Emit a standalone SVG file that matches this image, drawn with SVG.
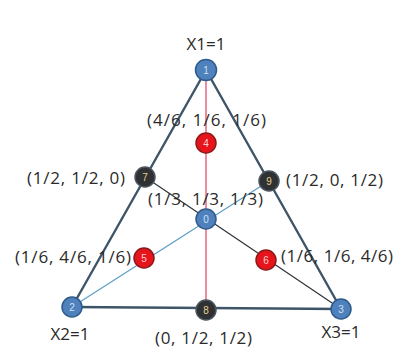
<svg xmlns="http://www.w3.org/2000/svg" width="401" height="361" viewBox="0 0 401 361">
<style>
.edge{stroke:#3e5568;stroke-width:2.4;fill:none;stroke-linecap:round}
.red-l{stroke:#e0506a;stroke-width:1.3}
.blue-l{stroke:#5d9dc6;stroke-width:1.2}
.dark-l{stroke:#2e3338;stroke-width:1.2}
.nb{fill:#4f81bd;stroke:#2e5a8c;stroke-width:1.5}
.nr{fill:#e8141c;stroke:#8a1a1a;stroke-width:1.5}
.nd{fill:#2f3133;stroke:#4a5560;stroke-width:1.5}
.num{font-family:"Liberation Sans",Arial,sans-serif;font-size:10px;text-anchor:middle}
.nbt{fill:#cfe0f5}.nrt{fill:#ffd0d0}.ndt{fill:#e8d090}
.lbl{font-family:"Open Sans","Liberation Sans",Arial,sans-serif;font-size:17px;fill:#2a2a2a}
</style>
<rect width="401" height="361" fill="#ffffff"/>
<g id="connectors">
<line class="red-l" x1="206" y1="70" x2="206" y2="311"/>
<line class="blue-l" x1="72" y1="307" x2="269" y2="181"/>
<line class="dark-l" x1="341" y1="309" x2="145" y2="177"/>
<line class="edge" x1="206" y1="70" x2="72" y2="307"/>
<line class="edge" x1="72" y1="307" x2="341" y2="309"/>
<line class="edge" x1="341" y1="309" x2="206" y2="70"/>
</g>
<g id="node1"><circle class="nb" cx="206" cy="70" r="10.5"/><text class="num nbt" x="206" y="74">1</text></g>
<g id="node2"><circle class="nb" cx="72" cy="307" r="10"/><text class="num nbt" x="72" y="311">2</text></g>
<g id="node3"><circle class="nb" cx="341" cy="309" r="10"/><text class="num nbt" x="341" y="313">3</text></g>
<g id="node0"><circle class="nb" cx="206" cy="219" r="10"/><text class="num nbt" x="206" y="223">0</text></g>
<g id="node4"><circle class="nr" cx="206" cy="143" r="10"/><text class="num nrt" x="206" y="147">4</text></g>
<g id="node5"><circle class="nr" cx="144" cy="258" r="10"/><text class="num nrt" x="144" y="262">5</text></g>
<g id="node6"><circle class="nr" cx="266" cy="260" r="10"/><text class="num nrt" x="266" y="264">6</text></g>
<g id="node7"><circle class="nd" cx="145" cy="177" r="10"/><text class="num ndt" x="145" y="181">7</text></g>
<g id="node8"><circle class="nd" cx="206" cy="310" r="10"/><text class="num ndt" x="206" y="314">8</text></g>
<g id="node9"><circle class="nd" cx="269" cy="181" r="10"/><text class="num ndt" x="269" y="185">9</text></g>
<g id="labels">
<text class="lbl" x="206" y="50" text-anchor="middle">X1=1</text>
<text class="lbl" x="147" y="126" textLength="119" lengthAdjust="spacing">(4/6, 1/6, 1/6)</text>
<text class="lbl" x="27" y="184" textLength="98" lengthAdjust="spacing">(1/2, 1/2, 0)</text>
<text class="lbl" x="148" y="205" textLength="115" lengthAdjust="spacing">(1/3, 1/3, 1/3)</text>
<text class="lbl" x="286" y="186" textLength="97" lengthAdjust="spacing">(1/2, 0, 1/2)</text>
<text class="lbl" x="15" y="263" textLength="116" lengthAdjust="spacing">(1/6, 4/6, 1/6)</text>
<text class="lbl" x="281" y="262" textLength="112" lengthAdjust="spacing">(1/6, 1/6, 4/6)</text>
<text class="lbl" x="155" y="344" textLength="97" lengthAdjust="spacing">(0, 1/2, 1/2)</text>
<text class="lbl" x="70" y="340" text-anchor="middle">X2=1</text>
<text class="lbl" x="341" y="338" text-anchor="middle">X3=1</text>
</g>
</svg>
